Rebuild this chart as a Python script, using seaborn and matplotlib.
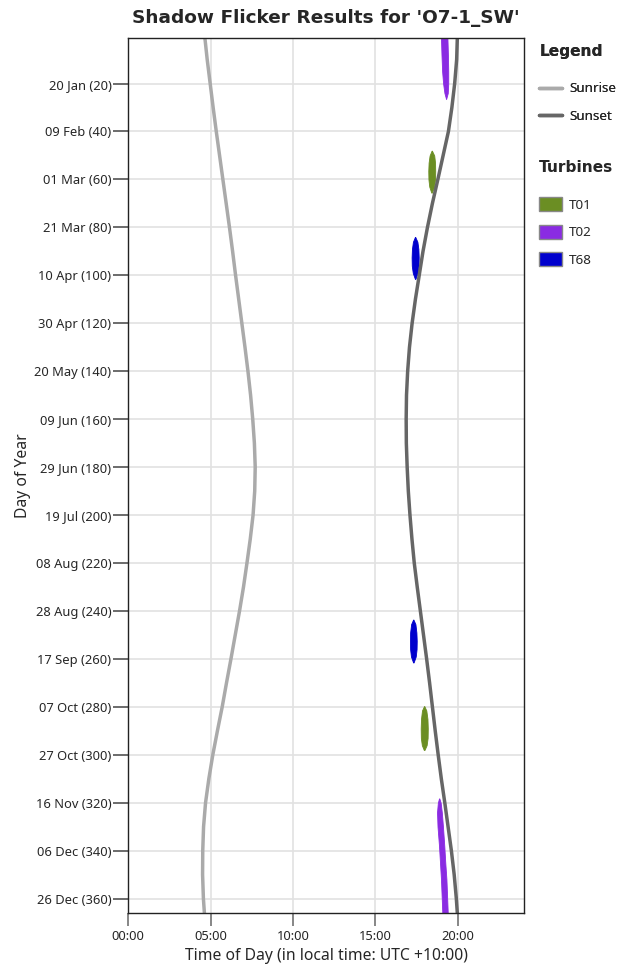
import matplotlib.pyplot as plt
import pandas as pd
import seaborn as sns
from matplotlib.lines import Line2D
from matplotlib.patches import Patch

# sunrise / sunset (hours, local time)
days = [1, 10, 20, 30, 40, 50, 60, 70, 80, 90, 100, 110, 120, 130, 140, 150, 160, 170, 180,
        190, 200, 210, 220, 230, 240, 250, 260, 270, 280, 290, 300, 310, 320, 330, 340, 350,
        360, 366]
sunrise = [4.66, 4.80, 4.98, 5.16, 5.35, 5.55, 5.75, 5.95, 6.15, 6.34, 6.52, 6.71, 6.90, 7.09,
           7.27, 7.43, 7.56, 7.66, 7.71, 7.68, 7.58, 7.41, 7.21, 7.00, 6.76, 6.50, 6.24, 5.97,
           5.71, 5.42, 5.14, 4.90, 4.70, 4.58, 4.53, 4.52, 4.57, 4.63]
sunset = [19.96, 19.92, 19.80, 19.63, 19.42, 19.10, 18.78, 18.45, 18.15, 17.88, 17.65, 17.42,
          17.22, 17.06, 16.95, 16.88, 16.86, 16.87, 16.92, 16.99, 17.09, 17.21, 17.35, 17.53,
          17.72, 17.91, 18.10, 18.28, 18.45, 18.62, 18.80, 18.99, 19.20, 19.40, 19.60, 19.77,
          19.90, 19.96]

# shadow flicker windows per turbine: (days, start hour, end hour)
t01_a = ([48, 50, 53, 56.5, 60, 63, 65.5],
         [18.40, 18.28, 18.22, 18.20, 18.21, 18.26, 18.38],
         [18.42, 18.56, 18.61, 18.62, 18.61, 18.55, 18.42])
t01_b = ([279.7, 281.5, 285, 289, 293, 296, 298],
         [17.94, 17.82, 17.76, 17.74, 17.75, 17.81, 17.93],
         [17.96, 18.08, 18.15, 18.17, 18.16, 18.10, 17.97])
t02_a = ([1, 8, 15, 20, 24, 26.5],
         [18.97, 19.00, 19.04, 19.10, 19.18, 19.28],
         [19.36, 19.39, 19.41, 19.41, 19.38, 19.28])
t02_b = ([318.2, 320, 324, 330, 338, 345, 352, 359, 366],
         [18.85, 18.78, 18.73, 18.76, 18.85, 18.91, 18.97, 19.01, 19.05],
         [18.87, 18.95, 19.02, 19.09, 19.17, 19.23, 19.30, 19.34, 19.38])
t68_a = ([84, 86, 89, 92.5, 96, 99, 101.5],
         [17.39, 17.27, 17.21, 17.19, 17.20, 17.26, 17.39],
         [17.41, 17.54, 17.60, 17.62, 17.61, 17.55, 17.42])
t68_b = ([243.6, 245.5, 249, 252.5, 256, 259, 261.5],
         [17.28, 17.16, 17.10, 17.09, 17.10, 17.15, 17.28],
         [17.30, 17.42, 17.48, 17.50, 17.49, 17.44, 17.31])

turbines = ["T01", "T02", "T68"]
turbine_colors = ["#6b8e23", "#8a2be2", "#0000cd"]
turbine_windows = [[t01_a, t01_b], [t02_a, t02_b], [t68_a, t68_b]]

hour_ticks = [0, 5, 10, 15, 20]
hour_labels = ["00:00", "05:00", "10:00", "15:00", "20:00"]
day_ticks = [20, 40, 60, 80, 100, 120, 140, 160, 180, 200, 220, 240, 260, 280, 300, 320, 340, 360]
day_labels = ["20 Jan (20)", "09 Feb (40)", "01 Mar (60)", "21 Mar (80)", "10 Apr (100)",
              "30 Apr (120)", "20 May (140)", "09 Jun (160)", "29 Jun (180)", "19 Jul (200)",
              "08 Aug (220)", "28 Aug (240)", "17 Sep (260)", "07 Oct (280)", "27 Oct (300)",
              "16 Nov (320)", "06 Dec (340)", "26 Dec (360)"]

sun_df = pd.concat([
    pd.DataFrame({"day": days, "time": sunrise, "event": "Sunrise"}),
    pd.DataFrame({"day": days, "time": sunset, "event": "Sunset"}),
])

sns.set_theme(style="white")
plt.rcParams["font.family"] = ["Noto Sans", "DejaVu Sans"]
bold_family = ["DejaVu Sans"]

fig = plt.figure(figsize=(6.22, 9.69), dpi=100)
ax = fig.add_axes([0.2058, 0.0578, 0.6366, 0.903])

ax.grid(True, color="#e2e2e2", linewidth=1.2)
ax.set_axisbelow(True)

sns.lineplot(data=sun_df, x="time", y="day", hue="event", orient="y", ax=ax,
             palette={"Sunrise": "#aaaaaa", "Sunset": "#666666"}, linewidth=2.5, legend=False)

for color, windows in zip(turbine_colors, turbine_windows):
    for d, start, end in windows:
        ax.fill_betweenx(d, start, end, color=color, linewidth=0.6, edgecolor=color)

ax.set_xlim(0, 24)
ax.set_ylim(366, 1)
ax.set_xticks(hour_ticks, hour_labels)
ax.set_yticks(day_ticks, day_labels)
ax.tick_params(axis="y", length=10.8, width=1.1, color="#444444", pad=1, labelsize=9.3, left=True)
ax.tick_params(axis="x", length=9.5, width=1.1, color="#666666", pad=3, labelsize=9.3, bottom=True)
for s in ax.spines.values():
    s.set_color("#222222")
    s.set_linewidth(1)

ax.set_xlabel("Time of Day (in local time: UTC +10:00)", fontsize=11.3, labelpad=3)
ax.set_ylabel("Day of Year", fontsize=11.3)
ax.yaxis.set_label_coords(-0.245, 0.5)
ax.set_title("Shadow Flicker Results for 'O7-1_SW'", fontsize=13.3, fontweight="bold",
             family=bold_family, pad=11)

title_font = {"weight": "bold", "size": 11.1, "family": bold_family}
line_handles = [Line2D([], [], color="#aaaaaa", lw=2.5), Line2D([], [], color="#666666", lw=2.5)]
leg1 = fig.legend(line_handles, ["Sunrise", "Sunset"], title="Legend", loc="upper left",
                  bbox_to_anchor=(0.867, 0.955), frameon=False, fontsize=9.7,
                  title_fontproperties=title_font, alignment="left",
                  handlelength=1.7, handletextpad=0.5, labelspacing=1.1, borderaxespad=0,
                  borderpad=0)
leg1._legend_box.sep = 17
patch_handles = [Patch(facecolor=c, edgecolor="#888888", linewidth=1) for c in turbine_colors]
leg2 = fig.legend(patch_handles, turbines, title="Turbines", loc="upper left",
                  bbox_to_anchor=(0.867, 0.835), frameon=False, fontsize=9.7,
                  title_fontproperties=title_font, alignment="left",
                  handlelength=1.7, handleheight=1.25, handletextpad=0.5, labelspacing=0.95,
                  borderaxespad=0, borderpad=0)
leg2._legend_box.sep = 16
fig.add_artist(leg1)

fig.savefig("out.png", dpi=100)
